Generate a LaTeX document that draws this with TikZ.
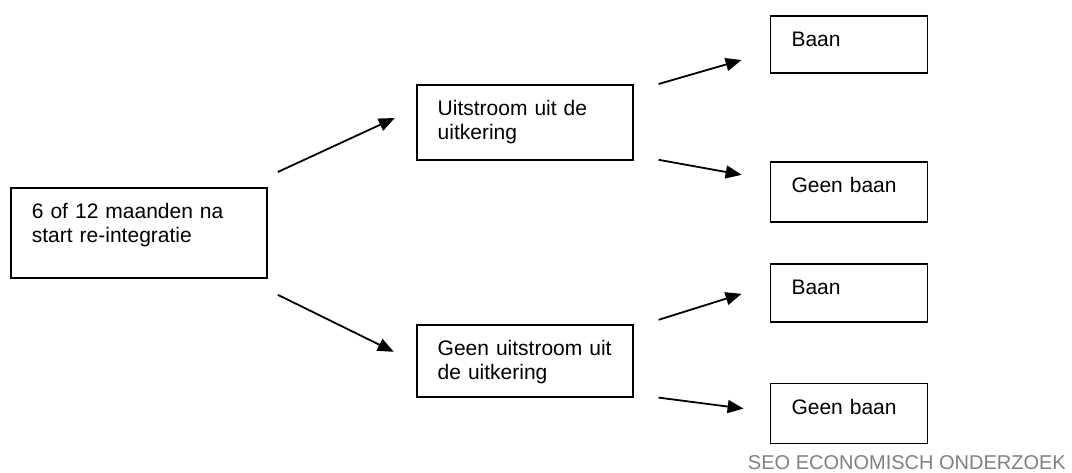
\documentclass[tikz,border=0pt]{standalone}
\usepackage{fontspec}
\setmainfont{Liberation Sans}
\usepackage{tikz}
\usetikzlibrary{calc,positioning}
\usetikzlibrary{arrows.meta}

\begin{document}
\begin{tikzpicture}[x=1pt,y=1pt,
    box/.style={draw,line width=1.8pt,anchor=north west,inner xsep=21pt,inner ysep=0pt,
      text height=31pt,align=left,font=\fontsize{21}{23.5}\selectfont},
    startbox/.style={box,text width=214pt,text depth=59pt},
    midbox/.style={box,text width=174pt},
    endbox/.style={box,text width=115pt},
    arr/.style={-{Triangle[length=16pt,width=13pt]},line width=1.8pt}]
 \useasboundingbox (0,0) rectangle (1072,-472);
 \node[startbox] (start) at (10,-187)
  {6 of 12 maanden na\\ start re-integratie};
 \node[midbox,above right=103pt and 148pt of start.north east,anchor=north west,text depth=44pt] (uit)
  {Uitstroom uit de\\ uitkering};
 \node[midbox,below right=45pt and 148pt of start.south east,anchor=north west,text depth=41pt] (geenuit)
  {Geen uitstroom uit\\ de uitkering};
 \node[endbox,above right=69pt and 136pt of uit.north east,anchor=north west,text depth=26pt] (baan1) {Baan};
 \node[endbox,right=136pt of uit.south east,anchor=north west,text depth=29pt] (geen1) {Geen baan};
 \node[endbox,above right=61pt and 136pt of geenuit.north east,anchor=north west,text depth=27pt] (baan2) {Baan};
 \node[endbox,above right=15pt and 136pt of geenuit.south east,anchor=north west,text depth=29pt] (geen2) {Geen baan};
 \node[anchor=base east,inner sep=0pt,text=gray,font=\fontsize{20}{24}\selectfont] (seo) at (1066,-469)
  {SEO ECONOMISCH ONDERZOEK};
 \draw[arr] ($(start.north east)+(10,15)$) -- ($(uit.north west)+(-21,-34)$);
 \draw[arr] ($(start.south east)+(10,-16)$) -- ($(geenuit.north west)+(-22,-28)$);
 \draw[arr] ($(uit.north east)+(25,0)$) -- ($(baan1.north west)+(-28,-45)$);
 \draw[arr] ($(uit.south east)+(25,1)$) -- ($(geen1.north west)+(-28,-14)$);
 \draw[arr] ($(geenuit.north east)+(25,4)$) -- ($(baan2.north west)+(-28,-31)$);
 \draw[arr] ($(geenuit.south east)+(25,0)$) -- ($(geen2.north west)+(-26,-26)$);
\end{tikzpicture}
\end{document}
